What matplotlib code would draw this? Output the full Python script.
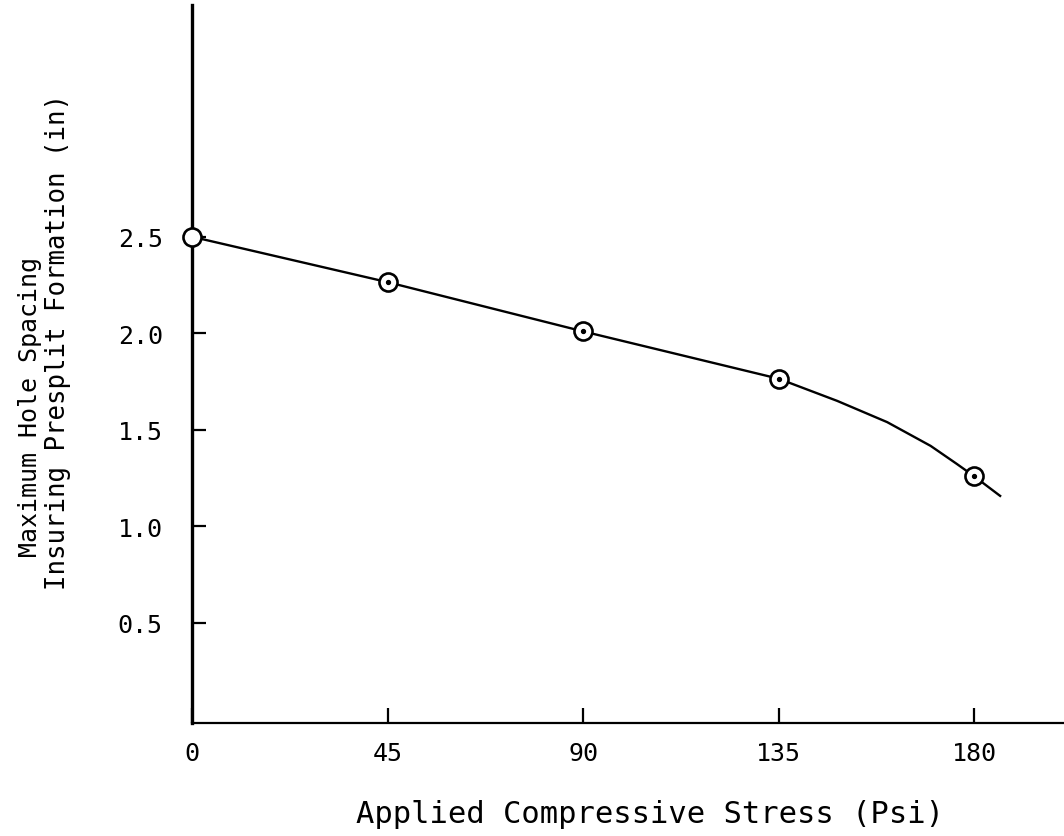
import matplotlib
matplotlib.use("Agg")
import matplotlib.pyplot as plt

# measured points (circles)
stress = [0, 45, 90, 135, 180]
spacing = [2.5, 2.265, 2.01, 1.765, 1.26]

# hand-drawn curve
curve_x = [0, 45, 90, 135, 148.5, 160, 170, 176, 180, 186]
curve_y = [2.5, 2.265, 2.01, 1.765, 1.65, 1.54, 1.417, 1.324, 1.26, 1.158]

xticks = [0, 45, 90, 135, 180]
yticks = [0.5, 1.0, 1.5, 2.0, 2.5]

plt.rcParams['font.family'] = ['DejaVu Sans Mono', 'DejaVu Sans']

fig = plt.figure(figsize=(10.64, 8.37), dpi=100)
ax = fig.add_axes([192 / 1064, (837 - 724) / 837, 1 - 192 / 1064, (724 - 6) / 837])

ax.plot(curve_x, curve_y, color='black', linewidth=1.7, zorder=2)
ax.plot(stress, spacing, linestyle='none', marker='o', markersize=13,
        markerfacecolor='white', markeredgecolor='black', markeredgewidth=1.9,
        zorder=3, clip_on=False)
ax.plot(stress[1:], spacing[1:], linestyle='none', marker='o', markersize=2.8,
        color='black', zorder=4)

ax.set_xlim(0, 200.7)
ax.set_ylim(-0.018, 3.70)

for side in ['top', 'right']:
    ax.spines[side].set_visible(False)
ax.spines['left'].set_linewidth(2.4)
ax.spines['bottom'].set_linewidth(1.6)

ax.set_xticks(xticks)
ax.set_xticklabels([str(v) for v in xticks])
ax.set_yticks(yticks)
ax.set_yticklabels([f"{v:.1f}" for v in yticks])
ax.tick_params(axis='x', direction='in', length=11, width=1.6, pad=13, labelsize=18)
ax.tick_params(axis='y', direction='in', length=10, width=1.6, pad=21, labelsize=18)

fig.text(650 / 1064, 1 - 815 / 837, "Applied Compressive Stress (Psi)",
         ha='center', va='center', fontsize=22)
fig.text(30 / 1064, 1 - 407 / 837, "Maximum Hole Spacing",
         ha='center', va='center', rotation=90, fontsize=18)
fig.text(58 / 1064, 1 - 342 / 837, "Insuring Presplit Formation (in)",
         ha='center', va='center', rotation=90, fontsize=18.5)

fig.savefig("out.png", dpi=100)
